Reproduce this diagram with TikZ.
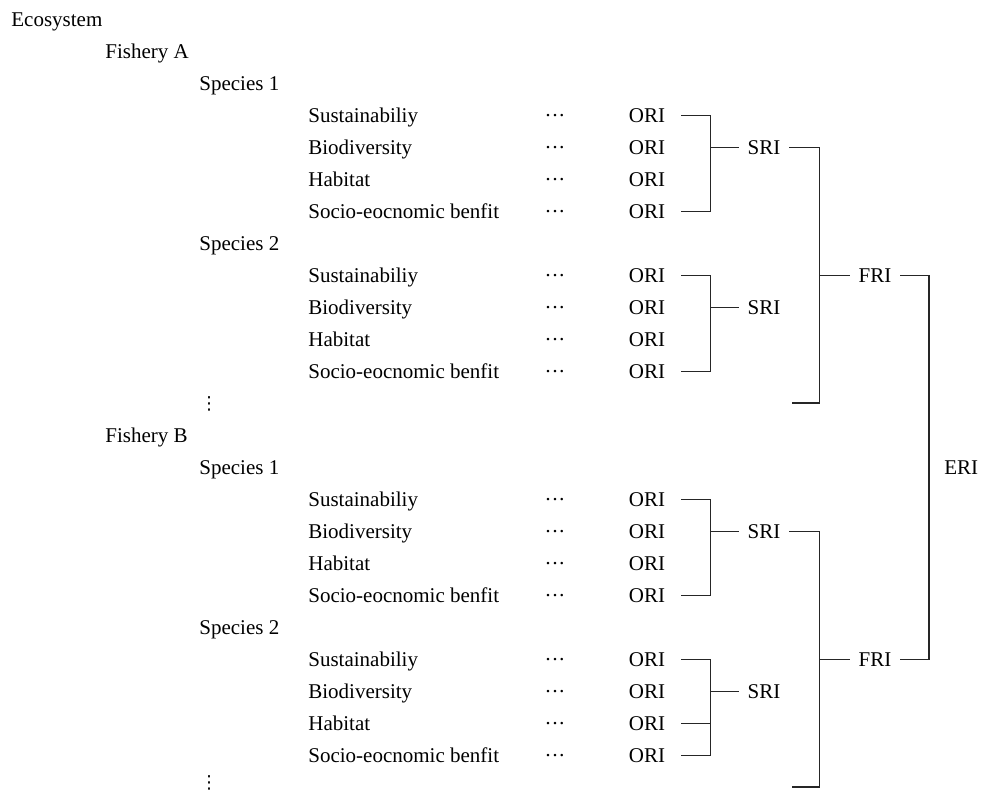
\documentclass[tikz,border=0pt]{standalone}
\usepackage{fontspec}
\setmainfont{Liberation Serif}
\newfontfamily\symfont{DejaVu Sans}
\usetikzlibrary{positioning,calc}

\tikzset{
  lbl/.style={inner sep=0pt, anchor=base west, font=\fontsize{10.5}{12}\selectfont},
  idx/.style={inner sep=0pt, outer xsep=4.5pt, anchor=base, font=\fontsize{10.5}{12}\selectfont},
  ori/.style={idx, outer xsep=8pt},
  vdot/.style={idx, font=\fontsize{9}{10}\symfont},
  link/.style={line width=0.6pt, black!85}
}

\begin{document}
\begin{tikzpicture}[x=0.5pt, y=-0.5pt]
\useasboundingbox (0,0) rectangle (981,793);
\node[lbl] (eco) at (11,26) {Ecosystem};
\node[lbl] (fa) at (105,58) {Fishery A};
\node[lbl] (fb) at (105,442) {Fishery B};
\node[vdot] (va) at (209,409) {⋮};
\node[vdot] (vb) at (209,788) {⋮};
% species blocks: group / first row / species no.
\foreach \g/\r/\spno in {1/2/1, 2/7/2, 3/14/1, 4/19/2} {
  \node[lbl] (sp\g) at (199,{26+32*\r}) {Species \spno};
  \foreach \txt [count=\i] in {Sustainabiliy, Biodiversity, Habitat, Socio-eocnomic benfit} {
    \node[lbl] (c\g\i) at (308,{26+32*(\r+\i)}) {\txt};
    \node[idx] (d\g\i) at (555,{26+32*(\r+\i)}) {···};
    \node[ori] (o\g\i) at (647,{26+32*(\r+\i)}) {ORI};
  }
  \node[idx] (sri\g) at (764,{26+32*(\r+2)}) {SRI};
  \coordinate (sb\g) at ([xshift=-14pt]sri\g.west);
  \draw[link] (o\g1.east) -| (sb\g) |- (o\g4.east);
  \draw[link] (sb\g) -- (sri\g.west);
}
\draw[link] (o43.east) -- (o43.east -| sb4);

% fishery level
\node[idx] (fri1) at (875,282) {FRI};
\node[idx] (fri2) at (875,666) {FRI};
\coordinate (fe1) at (792,403);
\coordinate (fe2) at (792,787);
\foreach \f/\s in {1/1, 2/3} {
  \coordinate (fbr\f) at ([xshift=-15pt]fri\f.west);
  \draw[link] (sri\s.east) -| (fbr\f) |- (fe\f);
  \draw[link] (fbr\f) -- (fri\f.west);
}

% ecosystem level
\node[lbl] (eri) at (944,474) {ERI};
\coordinate (ebr) at ([xshift=-7.5pt]eri.west);
\draw[link] (fri1.east) -| (ebr) |- (fri2.east);
\end{tikzpicture}
\end{document}
